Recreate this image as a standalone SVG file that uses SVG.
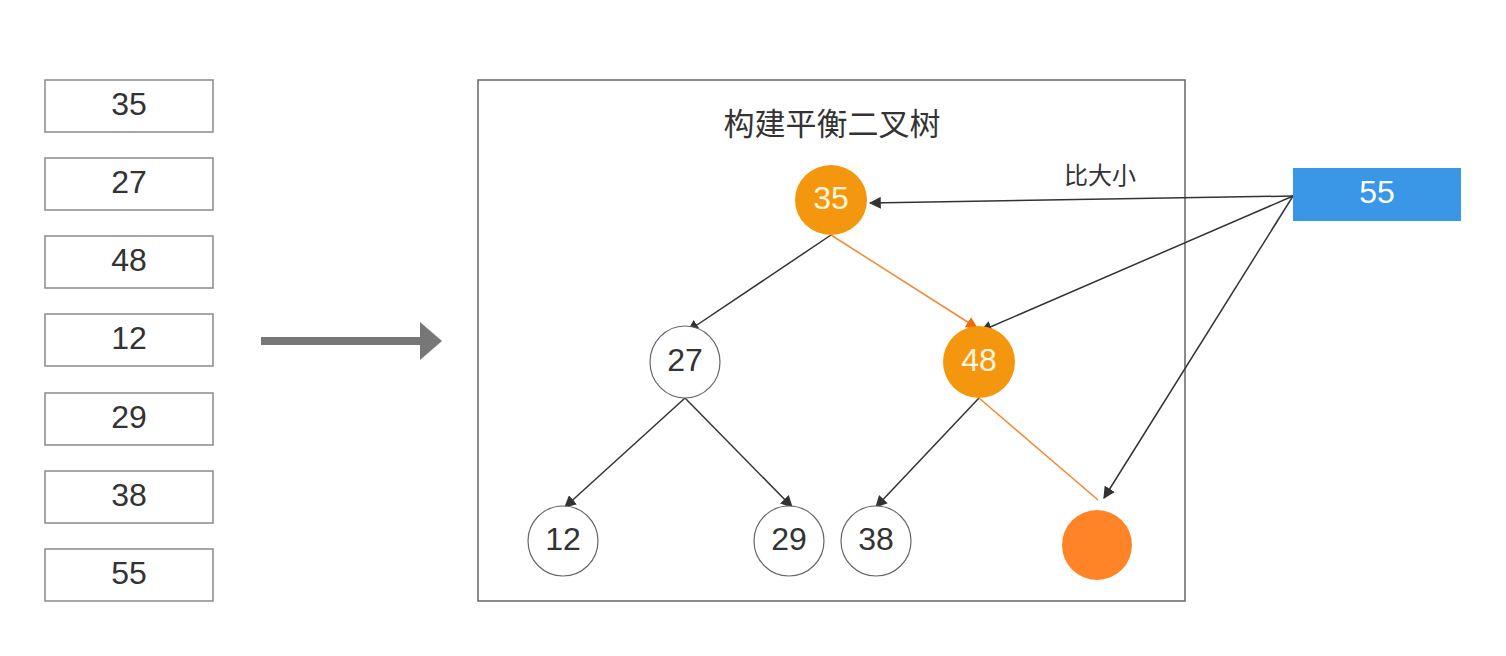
<svg xmlns="http://www.w3.org/2000/svg" width="1506" height="656" viewBox="0 0 1506 656">
<defs>
<style>
.box{fill:#fff;stroke:#8a8a8a;stroke-width:1.5}
.t{font-family:"Liberation Sans",Arial,sans-serif;font-size:32px;fill:#333;text-anchor:middle;dominant-baseline:central}
.wt{fill:#fff6e0}
.wn{fill:#fff;stroke:#666;stroke-width:1.2}
.on{fill:#f5960f}
.ln{stroke:#333;stroke-width:1.5;fill:none}
.ol{stroke:#f08a30;stroke-width:1.5;fill:none}
</style>
<marker id="a" viewBox="0 0 10 10" refX="9" refY="5" markerWidth="12" markerHeight="12" markerUnits="userSpaceOnUse" orient="auto"><path d="M0,0L10,5L0,10z" fill="#333"/></marker>
<marker id="ao" viewBox="0 0 10 10" refX="9" refY="5" markerWidth="12" markerHeight="12" markerUnits="userSpaceOnUse" orient="auto"><path d="M0,0L10,5L0,10z" fill="#f26a10"/></marker>
</defs>
<g id="list">
<g id="l35"><rect class="box" x="45" y="80" width="168" height="52"/><text class="t" x="129" y="104">35</text></g>
<g id="l27"><rect class="box" x="45" y="158" width="168" height="52"/><text class="t" x="129" y="182">27</text></g>
<g id="l48"><rect class="box" x="45" y="236" width="168" height="52"/><text class="t" x="129" y="260">48</text></g>
<g id="l12"><rect class="box" x="45" y="314" width="168" height="52"/><text class="t" x="129" y="338">12</text></g>
<g id="l29"><rect class="box" x="45" y="393" width="168" height="52"/><text class="t" x="129" y="417">29</text></g>
<g id="l38"><rect class="box" x="45" y="471" width="168" height="52"/><text class="t" x="129" y="495">38</text></g>
<g id="l55"><rect class="box" x="45" y="549" width="168" height="52"/><text class="t" x="129" y="573">55</text></g>
</g>
<g id="bigarrow">
<rect x="261" y="337" width="161" height="8" fill="#777"/>
<path d="M420,322L442,341L420,360z" fill="#777"/>
</g>
<g id="frame">
<rect x="478" y="80" width="707" height="521" fill="none" stroke="#666" stroke-width="1.5"/>
<text x="832" y="121" font-family="'Noto Sans CJK SC',sans-serif" font-size="31" fill="#333" text-anchor="middle" dominant-baseline="central">构建平衡二叉树</text>
</g>
<g id="connectors">
<line class="ln" x1="831" y1="235" x2="688" y2="331" marker-end="url(#a)"/>
<line class="ol" x1="831" y1="235" x2="977" y2="328" marker-end="url(#ao)"/>
<line class="ln" x1="685" y1="398" x2="565" y2="507" marker-end="url(#a)"/>
<line class="ln" x1="685" y1="398" x2="792" y2="507" marker-end="url(#a)"/>
<line class="ln" x1="979" y1="398" x2="876" y2="507" marker-end="url(#a)"/>
<line class="ol" x1="979" y1="398" x2="1098" y2="500"/>
<line class="ln" x1="1293" y1="196" x2="870" y2="203" marker-end="url(#a)"/>
<line class="ln" x1="1293" y1="196" x2="981" y2="331" marker-end="url(#a)"/>
<line class="ln" x1="1293" y1="196" x2="1104" y2="498" marker-end="url(#a)"/>
<text x="1100" y="173" font-family="'Noto Sans CJK SC',sans-serif" font-size="24" fill="#333" text-anchor="middle" dominant-baseline="central">比大小</text>
</g>
<g id="n35"><ellipse class="on" cx="831" cy="200" rx="36" ry="35"/><text class="t wt" x="831" y="198">35</text></g>
<g id="n27"><ellipse class="wn" cx="685" cy="362" rx="35" ry="36"/><text class="t" x="685" y="360">27</text></g>
<g id="n48"><ellipse class="on" cx="979" cy="362" rx="36" ry="36"/><text class="t wt" x="979" y="360">48</text></g>
<g id="n12"><ellipse class="wn" cx="563" cy="541" rx="35" ry="35"/><text class="t" x="563" y="539">12</text></g>
<g id="n29"><ellipse class="wn" cx="789" cy="541" rx="35" ry="35"/><text class="t" x="789" y="539">29</text></g>
<g id="n38"><ellipse class="wn" cx="876" cy="541" rx="35" ry="35"/><text class="t" x="876" y="539">38</text></g>
<g id="nnew"><circle cx="1097" cy="545" r="35" fill="#fe8427"/></g>
<g id="n55"><rect x="1293" y="168" width="168" height="53" fill="#3a96e6"/><text class="t" x="1377" y="192" style="fill:#fff">55</text></g>
</svg>
